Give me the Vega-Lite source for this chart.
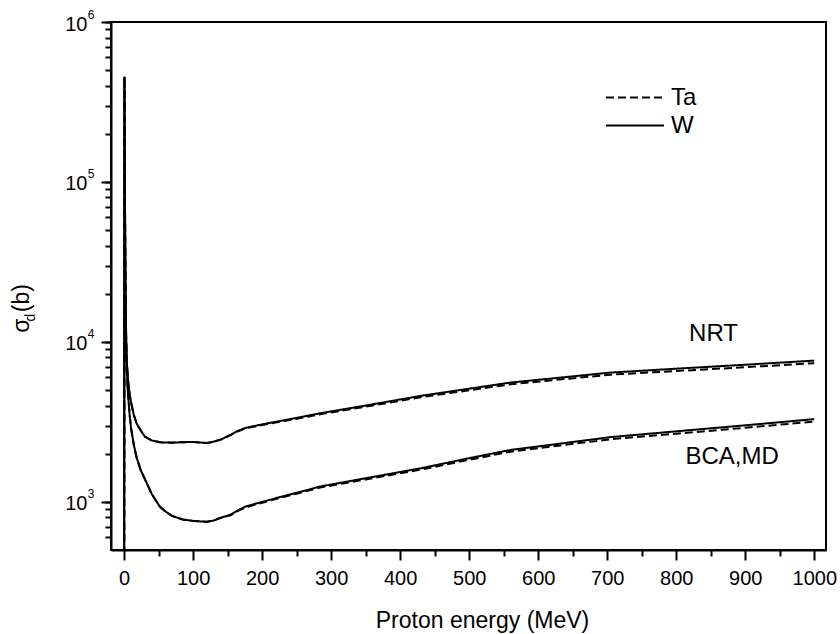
{
  "$schema": "https://vega.github.io/schema/vega-lite/v6.json",
  "width": 715,
  "height": 528,
  "autosize": "none",
  "padding": {"left": 111, "top": 22, "right": 14, "bottom": 84},
  "background": "white",
  "config": {
    "view": {"stroke": "black", "strokeWidth": 2},
    "font": "Liberation Sans",
    "axis": {
      "domainColor": "black", "domainWidth": 2, "tickColor": "black", "tickWidth": 2,
      "labelColor": "black", "titleColor": "black", "labelFont": "Liberation Sans",
      "titleFont": "Liberation Sans", "labelFontSize": 20, "titleFontSize": 23,
      "titleFontWeight": "normal", "grid": false, "labelOverlap": false
    },
    "legend": {
      "orient": "none", "legendX": 508.5, "legendY": 60, "padding": 0,
      "labelFont": "Liberation Sans", "labelFontSize": 24, "labelColor": "black",
      "symbolType": "M-2,0L2,0", "symbolSize": 841, "symbolStrokeWidth": 2,
      "symbolStrokeColor": "black", "symbolFillColor": "transparent",
      "labelOffset": 20.5, "rowPadding": 0
    }
  },
  "datasets": {
    "curves": [
      {"E": 0, "NW": 100, "NT": 100, "BW": 100, "BT": 100},
      {"E": 0.5, "NW": 455000, "NT": 455000, "BW": 455000, "BT": 455000},
      {"E": 1, "NW": 120000, "NT": 120000, "BW": 110000, "BT": 110000},
      {"E": 1.5, "NW": 50000, "NT": 50000, "BW": 45000, "BT": 45000},
      {"E": 2, "NW": 22000, "NT": 22000, "BW": 20000, "BT": 20000},
      {"E": 3, "NW": 10500, "NT": 10500, "BW": 9500, "BT": 9500},
      {"E": 4, "NW": 7400, "NT": 7400, "BW": 6800, "BT": 6800},
      {"E": 5, "NW": 6400, "NT": 6400, "BW": 5300, "BT": 5300},
      {"E": 6, "NW": 5600, "NT": 5600, "BW": 4500, "BT": 4500},
      {"E": 8, "NW": 4700, "NT": 4700, "BW": 3500, "BT": 3500},
      {"E": 10, "NW": 4200, "NT": 4200, "BW": 2900, "BT": 2900},
      {"E": 14, "NW": 3500, "NT": 3500, "BW": 2280, "BT": 2280},
      {"E": 18, "NW": 3100, "NT": 3100, "BW": 1900, "BT": 1900},
      {"E": 24, "NW": 2800, "NT": 2800, "BW": 1580, "BT": 1580},
      {"E": 30, "NW": 2560, "NT": 2560, "BW": 1390, "BT": 1390},
      {"E": 40, "NW": 2420, "NT": 2420, "BW": 1120, "BT": 1120},
      {"E": 52, "NW": 2360, "NT": 2360, "BW": 930, "BT": 930},
      {"E": 60, "NW": 2350, "NT": 2350, "BW": 870, "BT": 870},
      {"E": 70, "NW": 2345, "NT": 2345, "BW": 815, "BT": 815},
      {"E": 85, "NW": 2360, "NT": 2360, "BW": 775, "BT": 775},
      {"E": 100, "NW": 2370, "NT": 2370, "BW": 760, "BT": 760},
      {"E": 110, "NW": 2350, "NT": 2350, "BW": 755, "BT": 755},
      {"E": 120, "NW": 2330, "NT": 2330, "BW": 750, "BT": 750},
      {"E": 130, "NW": 2380, "NT": 2380, "BW": 765, "BT": 765},
      {"E": 140, "NW": 2450, "NT": 2450, "BW": 795, "BT": 795},
      {"E": 154, "NW": 2620, "NT": 2610, "BW": 830, "BT": 825},
      {"E": 165, "NW": 2780, "NT": 2765, "BW": 885, "BT": 878},
      {"E": 176, "NW": 2900, "NT": 2880, "BW": 935, "BT": 925},
      {"E": 200, "NW": 3050, "NT": 3020, "BW": 1000, "BT": 988},
      {"E": 250, "NW": 3350, "NT": 3310, "BW": 1140, "BT": 1125},
      {"E": 284, "NW": 3580, "NT": 3530, "BW": 1247, "BT": 1229},
      {"E": 350, "NW": 4000, "NT": 3935, "BW": 1405, "BT": 1381},
      {"E": 430, "NW": 4600, "NT": 4510, "BW": 1622, "BT": 1590},
      {"E": 500, "NW": 5100, "NT": 4985, "BW": 1875, "BT": 1832},
      {"E": 560, "NW": 5570, "NT": 5430, "BW": 2113, "BT": 2060},
      {"E": 630, "NW": 5970, "NT": 5810, "BW": 2307, "BT": 2245},
      {"E": 705, "NW": 6430, "NT": 6240, "BW": 2540, "BT": 2464},
      {"E": 800, "NW": 6800, "NT": 6575, "BW": 2760, "BT": 2669},
      {"E": 900, "NW": 7200, "NT": 6945, "BW": 3010, "BT": 2905},
      {"E": 1000, "NW": 7640, "NT": 7360, "BW": 3290, "BT": 3175}
    ],
    "keys": [
      {"curve": "NW", "m": "W"},
      {"curve": "NT", "m": "Ta"},
      {"curve": "BW", "m": "W"},
      {"curve": "BT", "m": "Ta"}
    ],
    "labels": [
      {"E": 854, "s": 11200, "t": "NRT"},
      {"E": 881, "s": 1897, "t": "BCA,MD"}
    ]
  },
  "layer": [
    {
      "data": {"name": "curves"},
      "transform": [
        {"fold": ["NT", "BT", "NW", "BW"], "as": ["curve", "s"]},
        {"lookup": "curve", "from": {"data": {"name": "keys"}, "key": "curve", "fields": ["m"]}}
      ],
      "mark": {"type": "line", "clip": true, "strokeWidth": 2, "color": "black"},
      "encoding": {
        "x": {
          "field": "E", "type": "quantitative",
          "scale": {"domain": [-19, 1017], "nice": false, "zero": false},
          "axis": {
            "orient": "bottom", "values": [0, 100, 200, 300, 400, 500, 600, 700, 800, 900, 1000],
            "format": "d", "tickSize": 10, "labelPadding": 8, "labelFlush": false,
            "title": "Proton energy (MeV)", "titlePadding": 21, "titleX": 371
          }
        },
        "y": {
          "field": "s", "type": "quantitative",
          "scale": {"type": "log", "domain": [500, 1000000], "nice": false},
          "axis": {
            "orient": "left", "values": [1000, 10000, 100000, 1000000],
            "labelExpr": "'10'", "labelOffset": 2,
            "tickSize": 10, "labelPadding": 14, "labelFlush": false,
            "title": "σ   (b)", "titleX": -83, "titleY": 286, "titleAngle": 270,
            "titleBaseline": "alphabetic", "titleAlign": "center"
          }
        },
        "detail": {"field": "curve"},
        "strokeDash": {
          "field": "m", "type": "nominal",
          "scale": {"domain": ["Ta", "W"], "range": [[8, 4], [1, 0]]},
          "legend": {"title": null}
        }
      }
    },
    {
      "data": {"name": "labels"},
      "mark": {"type": "text", "font": "Liberation Sans", "fontSize": 24, "color": "black", "align": "center", "baseline": "middle"},
      "encoding": {
        "x": {
          "field": "E", "type": "quantitative",
          "axis": {
            "orient": "bottom", "values": [50, 150, 250, 350, 450, 550, 650, 750, 850, 950],
            "tickSize": 6, "labels": false, "domain": false, "title": null
          }
        },
        "y": {
          "field": "s", "type": "quantitative",
          "axis": {
            "orient": "left",
            "values": [600, 700, 800, 900, 1000, 2000, 3000, 4000, 5000, 6000, 7000, 8000, 9000, 10000, 20000, 30000, 40000, 50000, 60000, 70000, 80000, 90000, 100000, 200000, 300000, 400000, 500000, 600000, 700000, 800000, 900000, 1000000],
            "labelExpr": "datum.value == 1000 ? '3' : datum.value == 10000 ? '4' : datum.value == 100000 ? '5' : datum.value == 1000000 ? '6' : ''",
            "labelFontSize": 12, "labelPadding": 11, "labelOffset": -8, "labelFlush": false,
            "tickSize": 6, "domain": false,
            "title": "d", "titleFontSize": 14, "titleX": -77, "titleY": 295, "titleAngle": 270,
            "titleBaseline": "alphabetic", "titleAlign": "center"
          }
        },
        "text": {"field": "t"}
      }
    }
  ],
  "resolve": {"axis": {"x": "independent", "y": "independent"}}
}
